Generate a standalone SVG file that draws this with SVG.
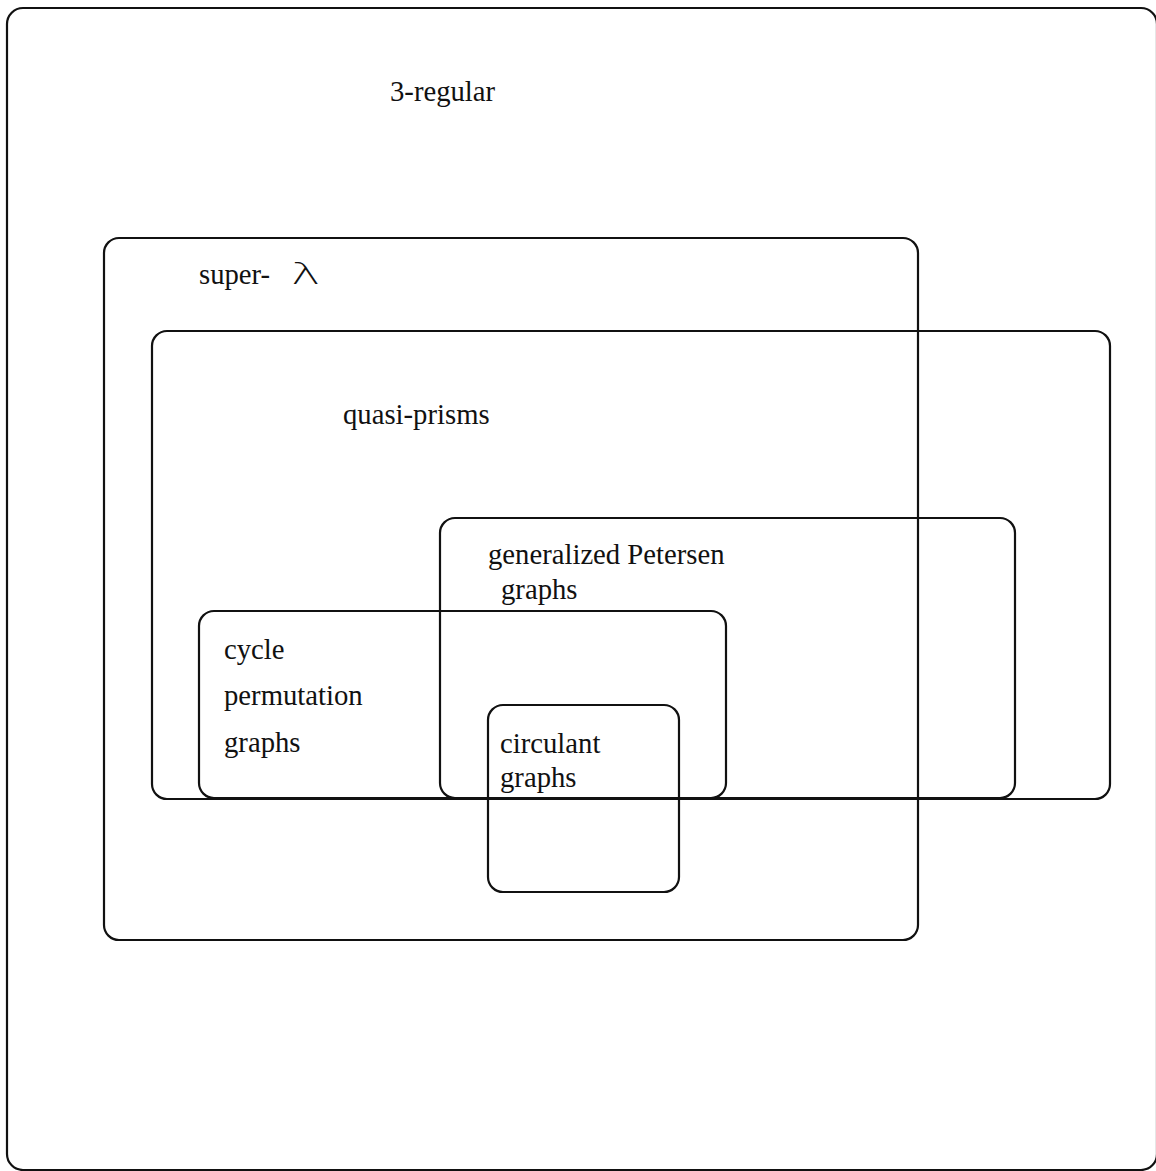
<svg xmlns="http://www.w3.org/2000/svg" width="1156" height="1171" viewBox="0 0 1156 1171">
<style>
.box{fill:none;stroke:#111;stroke-width:2.2}
.t{font-family:"Liberation Serif","Times New Roman",serif;font-size:28.7px;fill:#111}
.sym{font-family:"DejaVu Sans",sans-serif;font-size:31px;font-weight:200;fill:#111}
</style>
<rect width="1156" height="1171" fill="#fff"/>
<g id="three-regular">
<rect class="box" x="7" y="8" width="1150" height="1162" rx="16"/>
<text class="t" x="390" y="101">3-regular</text>
</g>
<g id="super-lambda">
<rect class="box" x="104" y="238" width="814" height="702" rx="15"/>
<text class="t" x="199" y="284">super-</text>
<text class="sym" transform="translate(291,284) scale(1.6,1)">λ</text>
</g>
<g id="quasi-prisms">
<rect class="box" x="152" y="331" width="958" height="468" rx="15"/>
<text class="t" x="343" y="424">quasi-prisms</text>
</g>
<g id="generalized-petersen">
<rect class="box" x="440" y="518" width="575" height="280" rx="15"/>
<text class="t" x="488" y="564">generalized Petersen</text>
<text class="t" x="501" y="599">graphs</text>
</g>
<g id="cycle-permutation">
<rect class="box" x="199" y="611" width="527" height="187" rx="15"/>
<text class="t" x="224" y="659">cycle</text>
<text class="t" x="224" y="705">permutation</text>
<text class="t" x="224" y="752">graphs</text>
</g>
<g id="circulant">
<rect class="box" x="488" y="705" width="191" height="187" rx="15"/>
<text class="t" x="500" y="753">circulant</text>
<text class="t" x="500" y="787">graphs</text>
</g>
<g id="connectors"></g>
</svg>
